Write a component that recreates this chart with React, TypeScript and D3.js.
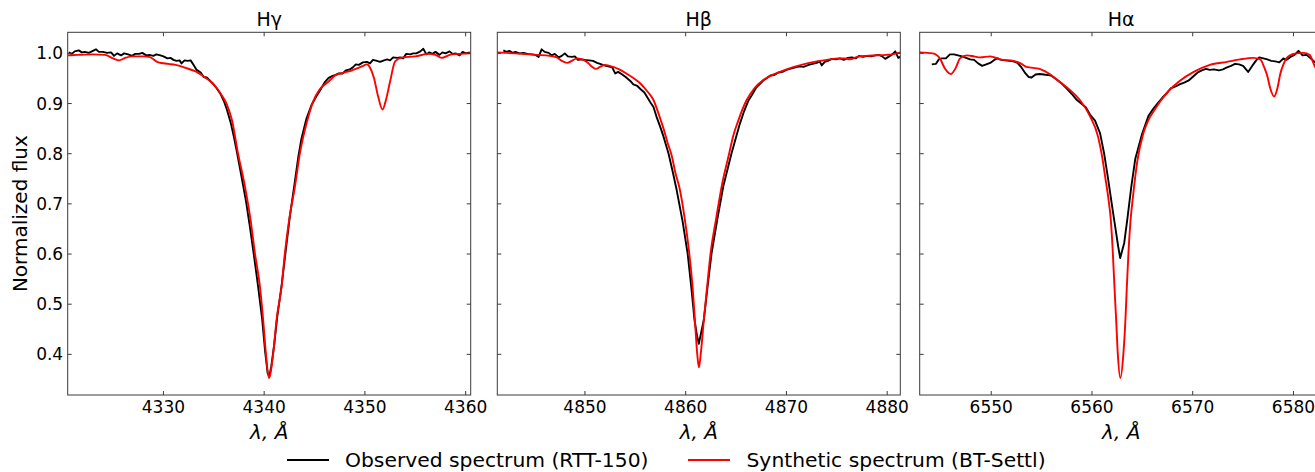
import React from "react";
import * as d3 from "d3";

// Spectral line profiles: [wavelength (Å), normalized flux]
const hgObserved: [number, number][] = [
  [4320.6, 1.002], [4320.9, 0.999], [4321.2, 1.004], [4321.6, 1.006], [4321.9, 1.002],
  [4322.2, 1.003], [4322.6, 1.001], [4323.0, 1.005], [4323.3, 1.008], [4323.6, 1.003],
  [4324.0, 1.003], [4324.4, 1.001], [4324.8, 1.002], [4325.1, 0.995], [4325.4, 1.0],
  [4325.8, 0.996], [4326.1, 1.0], [4326.5, 0.998], [4326.9, 0.995], [4327.2, 0.999],
  [4327.6, 0.999], [4327.9, 1.001], [4328.3, 0.996], [4328.6, 0.997], [4329.0, 0.995],
  [4329.3, 0.998], [4329.7, 0.996], [4330.0, 0.994], [4330.4, 0.99], [4330.7, 0.991],
  [4331.0, 0.987], [4331.3, 0.985], [4331.6, 0.986], [4331.8, 0.98], [4332.1, 0.986],
  [4332.4, 0.985], [4332.7, 0.986], [4333.0, 0.977], [4333.3, 0.967], [4333.7, 0.962],
  [4334.0, 0.953], [4334.3, 0.952], [4334.6, 0.946], [4334.9, 0.94], [4335.3, 0.93],
  [4335.7, 0.918], [4336.0, 0.905], [4336.3, 0.888], [4336.7, 0.86], [4337.0, 0.833],
  [4337.3, 0.803], [4337.7, 0.76], [4338.2, 0.705], [4338.6, 0.652], [4339.0, 0.595],
  [4339.4, 0.535], [4339.8, 0.47], [4340.1, 0.405], [4340.35, 0.362], [4340.5, 0.356],
  [4340.7, 0.375], [4341.0, 0.42], [4341.3, 0.475], [4341.75, 0.54], [4342.13, 0.605],
  [4342.55, 0.675], [4343.05, 0.745], [4343.4, 0.795], [4343.7, 0.83], [4344.2, 0.87],
  [4344.7, 0.897], [4345.2, 0.915], [4345.6, 0.928], [4346.0, 0.942], [4346.4, 0.951],
  [4346.8, 0.955], [4347.1, 0.957], [4347.4, 0.96], [4347.8, 0.96], [4348.1, 0.966],
  [4348.5, 0.968], [4348.8, 0.972], [4349.1, 0.978], [4349.4, 0.977], [4349.8, 0.982],
  [4350.2, 0.983], [4350.5, 0.98], [4350.8, 0.987], [4351.2, 0.985], [4351.5, 0.983],
  [4351.9, 0.986], [4352.2, 0.988], [4352.5, 0.986], [4352.8, 0.992], [4353.2, 0.991],
  [4353.5, 0.992], [4353.8, 0.99], [4354.1, 0.999], [4354.5, 0.998], [4354.8, 1.0],
  [4355.1, 1.0], [4355.5, 1.004], [4355.8, 1.009], [4356.1, 0.998], [4356.4, 1.002],
  [4356.7, 0.999], [4357.0, 1.003], [4357.4, 0.997], [4357.7, 1.002], [4358.0, 1.0],
  [4358.4, 1.004], [4358.7, 0.999], [4359.0, 1.0], [4359.4, 0.996], [4359.7, 1.003],
  [4360.0, 1.0], [4360.4, 1.002],
];

const hgSynthetic: [number, number][] = [
  [4320.5, 0.996], [4321.5, 0.997], [4323.0, 0.998], [4324.2, 0.997], [4325.0, 0.99],
  [4325.6, 0.986], [4326.2, 0.991], [4326.9, 0.994], [4328.0, 0.994], [4328.6, 0.993],
  [4329.5, 0.982], [4330.5, 0.979], [4331.2, 0.977], [4332.2, 0.971], [4333.2, 0.964],
  [4334.2, 0.951], [4334.8, 0.942], [4335.3, 0.931], [4335.8, 0.916], [4336.3, 0.898],
  [4336.8, 0.867], [4337.4, 0.801], [4338.1, 0.734], [4338.65, 0.668], [4339.08, 0.602],
  [4339.58, 0.535], [4339.9, 0.469], [4340.17, 0.402], [4340.47, 0.353], [4340.9, 0.402],
  [4341.23, 0.469], [4341.73, 0.535], [4342.06, 0.602], [4342.48, 0.668], [4343.05, 0.734],
  [4343.55, 0.801], [4344.2, 0.86], [4344.9, 0.906], [4345.5, 0.928], [4346.4, 0.944],
  [4347.05, 0.956], [4348.4, 0.964], [4349.7, 0.974], [4350.2, 0.978], [4350.5, 0.972],
  [4350.9, 0.951], [4351.3, 0.915], [4351.75, 0.888], [4352.1, 0.908], [4352.5, 0.944],
  [4353.0, 0.984], [4353.7, 0.992], [4355.0, 0.994], [4356.3, 0.999], [4357.0, 0.997],
  [4357.6, 0.991], [4358.6, 0.998], [4360.5, 1.0],
];

const hbObserved: [number, number][] = [
  [4841.9, 1.006], [4842.2, 1.003], [4842.5, 1.005], [4842.8, 1.001], [4843.1, 1.003],
  [4843.5, 1.0], [4843.9, 1.001], [4844.3, 0.999], [4844.7, 0.998], [4845.1, 0.997],
  [4845.4, 0.993], [4845.7, 1.008], [4846.0, 1.003], [4846.4, 1.001], [4846.7, 0.996],
  [4847.0, 0.999], [4847.4, 0.992], [4847.7, 0.995], [4848.0, 1.0], [4848.3, 0.994],
  [4848.7, 0.993], [4849.0, 0.994], [4849.3, 0.987], [4849.7, 0.988], [4850.0, 0.987],
  [4850.4, 0.986], [4850.8, 0.985], [4851.2, 0.981], [4851.5, 0.979], [4851.9, 0.976],
  [4852.3, 0.974], [4852.7, 0.972], [4853.0, 0.96], [4853.3, 0.963], [4853.7, 0.958],
  [4854.1, 0.952], [4854.5, 0.945], [4854.8, 0.938], [4855.2, 0.935], [4855.5, 0.929],
  [4855.9, 0.922], [4856.2, 0.912], [4856.5, 0.902], [4856.8, 0.893], [4857.1, 0.874],
  [4857.5, 0.852], [4857.8, 0.834], [4858.3, 0.8], [4858.7, 0.765], [4859.1, 0.728],
  [4859.7, 0.664], [4860.2, 0.6], [4860.55, 0.535], [4860.87, 0.469], [4861.1, 0.44],
  [4861.3, 0.421], [4861.5, 0.44], [4861.8, 0.469], [4862.17, 0.535], [4862.57, 0.602],
  [4863.13, 0.668], [4863.72, 0.734], [4864.55, 0.801], [4865.38, 0.86], [4865.8, 0.885],
  [4866.2, 0.905], [4866.6, 0.918], [4867.0, 0.932], [4867.4, 0.94], [4867.7, 0.946],
  [4868.0, 0.95], [4868.4, 0.956], [4868.8, 0.957], [4869.2, 0.962], [4869.6, 0.963],
  [4870.0, 0.967], [4870.5, 0.97], [4870.9, 0.972], [4871.3, 0.974], [4871.7, 0.973],
  [4872.2, 0.977], [4872.6, 0.979], [4873.0, 0.981], [4873.3, 0.984], [4873.5, 0.976],
  [4873.8, 0.983], [4874.1, 0.985], [4874.5, 0.989], [4874.9, 0.988], [4875.3, 0.99],
  [4875.7, 0.987], [4876.1, 0.991], [4876.5, 0.992], [4876.9, 0.99], [4877.2, 0.995],
  [4877.6, 0.993], [4878.0, 0.995], [4878.4, 0.994], [4878.8, 0.996], [4879.2, 0.997],
  [4879.5, 0.994], [4879.8, 0.989], [4880.2, 0.994], [4880.5, 0.998], [4880.8, 1.004],
  [4881.1, 0.991], [4881.3, 0.993],
];

const hbSynthetic: [number, number][] = [
  [4841.3, 1.002], [4843.0, 1.0], [4845.2, 0.997], [4846.5, 0.995], [4847.2, 0.992],
  [4847.7, 0.985], [4848.25, 0.981], [4848.7, 0.985], [4849.2, 0.99], [4849.7, 0.988],
  [4850.2, 0.983], [4850.6, 0.975], [4851.1, 0.969], [4851.5, 0.973], [4852.0, 0.977],
  [4852.8, 0.973], [4853.5, 0.967], [4854.1, 0.96], [4854.8, 0.951], [4855.5, 0.94],
  [4856.2, 0.924], [4856.8, 0.907], [4857.3, 0.88], [4857.8, 0.85], [4858.2, 0.822],
  [4858.6, 0.797], [4859.0, 0.76], [4859.36, 0.734], [4859.92, 0.668], [4860.35, 0.602],
  [4860.68, 0.535], [4860.91, 0.469], [4861.14, 0.402], [4861.31, 0.374], [4861.5, 0.402],
  [4861.8, 0.469], [4862.13, 0.535], [4862.47, 0.602], [4863.0, 0.668], [4863.56, 0.734],
  [4864.32, 0.801], [4864.71, 0.835], [4865.2, 0.865], [4866.0, 0.905], [4866.8, 0.93],
  [4867.7, 0.947], [4868.5, 0.956], [4869.35, 0.963], [4870.3, 0.97], [4871.3, 0.976],
  [4872.5, 0.982], [4874.0, 0.987], [4875.2, 0.99], [4875.8, 0.99], [4876.3, 0.988],
  [4877.0, 0.993], [4877.9, 0.995], [4879.0, 0.996], [4879.9, 0.997], [4880.5, 0.998],
  [4881.3, 1.002],
];

const haObserved: [number, number][] = [
  [6544.1, 0.978], [6544.5, 0.979], [6544.8, 0.988], [6545.1, 0.99], [6545.5, 0.99],
  [6545.9, 0.998], [6546.3, 0.998], [6546.7, 0.996], [6547.1, 0.994], [6547.5, 0.991],
  [6547.9, 0.988], [6548.3, 0.987], [6548.7, 0.98], [6549.1, 0.975], [6549.5, 0.978],
  [6549.9, 0.981], [6550.3, 0.987], [6550.6, 0.99], [6551.0, 0.987], [6551.4, 0.986],
  [6551.8, 0.985], [6552.2, 0.984], [6552.6, 0.981], [6553.0, 0.972], [6553.4, 0.96],
  [6553.7, 0.953], [6554.0, 0.952], [6554.4, 0.958], [6554.8, 0.959], [6555.2, 0.958],
  [6555.6, 0.957], [6556.0, 0.955], [6556.5, 0.948], [6557.0, 0.94], [6557.5, 0.93],
  [6558.0, 0.919], [6558.5, 0.907], [6559.0, 0.899], [6559.4, 0.892], [6559.8, 0.878],
  [6560.3, 0.866], [6560.8, 0.841], [6561.2, 0.801], [6561.6, 0.75], [6562.0, 0.695],
  [6562.3, 0.655], [6562.6, 0.615], [6562.8, 0.592], [6563.2, 0.622], [6563.5, 0.668],
  [6563.9, 0.734], [6564.3, 0.79], [6564.95, 0.838], [6565.6, 0.875], [6566.1, 0.89],
  [6566.5, 0.9], [6567.0, 0.912], [6567.4, 0.92], [6567.8, 0.93], [6568.3, 0.934],
  [6568.7, 0.938], [6569.2, 0.942], [6569.6, 0.946], [6570.1, 0.955], [6570.5, 0.962],
  [6570.9, 0.966], [6571.3, 0.969], [6571.7, 0.967], [6572.1, 0.968], [6572.6, 0.966],
  [6573.0, 0.968], [6573.4, 0.972], [6573.8, 0.975], [6574.2, 0.979], [6574.6, 0.978],
  [6575.0, 0.975], [6575.5, 0.963], [6575.9, 0.975], [6576.3, 0.986], [6576.6, 0.992],
  [6577.0, 0.99], [6577.4, 0.988], [6577.8, 0.985], [6578.2, 0.984], [6578.6, 0.982],
  [6579.0, 0.99], [6579.3, 0.987], [6579.7, 0.993], [6580.1, 0.997], [6580.5, 1.005],
  [6580.9, 0.996], [6581.3, 0.997], [6581.7, 0.99], [6582.1, 0.983], [6582.5, 0.978],
  [6582.9, 0.972],
];

const haSynthetic: [number, number][] = [
  [6542.9, 1.002], [6544.2, 1.0], [6544.9, 0.99], [6545.4, 0.97], [6546.0, 0.959],
  [6546.5, 0.972], [6546.9, 0.99], [6547.6, 0.996], [6548.3, 0.994], [6548.9, 0.992],
  [6549.9, 0.994], [6550.9, 0.988], [6552.2, 0.985], [6553.0, 0.979], [6553.5, 0.973],
  [6554.8, 0.969], [6555.8, 0.959], [6556.8, 0.943], [6557.8, 0.927], [6558.8, 0.907],
  [6559.8, 0.875], [6560.6, 0.834], [6561.0, 0.795], [6561.3, 0.755], [6561.63, 0.71],
  [6561.87, 0.668], [6562.07, 0.602], [6562.23, 0.535], [6562.4, 0.469], [6562.56, 0.402],
  [6562.82, 0.353], [6563.12, 0.402], [6563.32, 0.469], [6563.46, 0.535], [6563.62, 0.602],
  [6563.8, 0.66], [6564.1, 0.72], [6564.5, 0.785], [6565.1, 0.841], [6565.6, 0.867],
  [6566.3, 0.89], [6566.8, 0.905], [6567.6, 0.925], [6568.7, 0.945], [6570.1, 0.963],
  [6571.7, 0.977], [6573.4, 0.983], [6574.7, 0.988], [6576.0, 0.991], [6576.7, 0.988],
  [6577.1, 0.972], [6577.4, 0.955], [6577.7, 0.93], [6578.08, 0.914], [6578.4, 0.93],
  [6578.7, 0.96], [6579.0, 0.978], [6579.3, 0.99], [6580.0, 0.999], [6581.0, 1.001],
  [6581.6, 0.997], [6582.1, 0.975], [6582.5, 0.96], [6582.9, 0.95],
];

const panelTitles = ["Hγ", "Hβ", "Hα"];
const xDomains: [number, number][] = [
  [4320.5, 4360.5],
  [4841.3, 4881.3],
  [6542.9, 6582.9],
];
const xTickValues = [
  [4330, 4340, 4350, 4360],
  [4850, 4860, 4870, 4880],
  [6550, 6560, 6570, 6580],
];
const yTickValues = [0.4, 0.5, 0.6, 0.7, 0.8, 0.9, 1.0];
const yDomain: [number, number] = [0.319, 1.042];
const observedSeries = [hgObserved, hbObserved, haObserved];
const syntheticSeries = [hgSynthetic, hbSynthetic, haSynthetic];
const legendLabels = ["Observed spectrum (RTT-150)", "Synthetic spectrum (BT-Settl)"];

const W = 1315;
const H = 472;
const panelLefts = [67.7, 497.3, 919.7];
const panelWidth = 403;
const plotTop = 32.3;
const plotBottom = 395;
const tickLen = 4;
const font = "DejaVu Sans, Verdana, sans-serif";
const frameColor = "#3a3a3a";

const yScale = d3.scaleLinear().domain(yDomain).range([plotBottom, plotTop]);

function Panel({ idx }: { idx: number }) {
  const left = panelLefts[idx];
  const right = left + panelWidth;
  const x = d3.scaleLinear().domain(xDomains[idx]).range([left, right]);
  const line = d3
    .line<[number, number]>()
    .x((d) => x(d[0]))
    .y((d) => yScale(d[1]));
  const smooth = d3
    .line<[number, number]>()
    .x((d) => x(d[0]))
    .y((d) => yScale(d[1]))
    .curve(d3.curveMonotoneX);
  const clipId = `clip-${idx}`;
  const cx = (left + right) / 2;
  return (
    <g>
      <defs>
        <clipPath id={clipId}>
          <rect x={left} y={plotTop} width={panelWidth} height={plotBottom - plotTop} />
        </clipPath>
      </defs>
      <g clipPath={`url(#${clipId})`}>
        <path d={line(observedSeries[idx]) || ""} fill="none" stroke="#000" strokeWidth={1.9} strokeLinejoin="round" />
        <path d={smooth(syntheticSeries[idx]) || ""} fill="none" stroke="#ff0000" strokeWidth={1.9} strokeLinejoin="round" />
      </g>
      {/* frame */}
      <rect x={left} y={plotTop} width={panelWidth} height={plotBottom - plotTop} fill="none" stroke={frameColor} strokeWidth={1} />
      {/* x ticks, pointing inward on bottom and top */}
      {xTickValues[idx].map((t) => (
        <g key={`xt${t}`}>
          <line x1={x(t)} x2={x(t)} y1={plotBottom} y2={plotBottom - tickLen} stroke={frameColor} strokeWidth={1} />
          <line x1={x(t)} x2={x(t)} y1={plotTop} y2={plotTop + tickLen} stroke={frameColor} strokeWidth={1} />
          <text x={x(t)} y={413} textAnchor="middle" fontSize={17} fontFamily={font} fill="#000">
            {t}
          </text>
        </g>
      ))}
      {/* y ticks on both sides */}
      {yTickValues.map((t) => (
        <g key={`yt${t}`}>
          <line x1={left} x2={left + tickLen} y1={yScale(t)} y2={yScale(t)} stroke={frameColor} strokeWidth={1} />
          <line x1={right} x2={right - tickLen} y1={yScale(t)} y2={yScale(t)} stroke={frameColor} strokeWidth={1} />
          {idx === 0 && (
            <text x={left - 4.5} y={yScale(t)} dy="0.36em" textAnchor="end" fontSize={17} fontFamily={font} fill="#000">
              {t.toFixed(1)}
            </text>
          )}
        </g>
      ))}
      <text x={cx} y={26} textAnchor="middle" fontSize={19} fontFamily={font} fill="#000">
        {panelTitles[idx]}
      </text>
      <text x={cx} y={439} textAnchor="middle" fontSize={20} fontFamily={font} fontStyle="italic" fill="#000">
        λ, Å
      </text>
    </g>
  );
}

export default function App() {
  return (
    <svg
      width={W}
      height={H}
      viewBox={`0 0 ${W} ${H}`}
      style={{ position: "absolute", left: 0, top: 0, background: "#fff" }}
    >
      <rect x={0} y={0} width={W} height={H} fill="#fff" />
      {panelTitles.map((_, i) => (
        <Panel key={i} idx={i} />
      ))}
      <text
        transform={`translate(20, ${(plotTop + plotBottom) / 2}) rotate(-90)`}
        textAnchor="middle"
        dy="0.36em"
        fontSize={20}
        fontFamily={font}
        fill="#000"
      >
        Normalized flux
      </text>
      {/* legend */}
      <line x1={287} x2={329} y1={460} y2={460} stroke="#000" strokeWidth={2} />
      <text x={345} y={467} fontSize={20.3} fontFamily={font} fill="#000">
        {legendLabels[0]}
      </text>
      <line x1={688} x2={730} y1={460} y2={460} stroke="#ff0000" strokeWidth={2} />
      <text x={746.5} y={467} fontSize={20.3} fontFamily={font} fill="#000">
        {legendLabels[1]}
      </text>
    </svg>
  );
}
